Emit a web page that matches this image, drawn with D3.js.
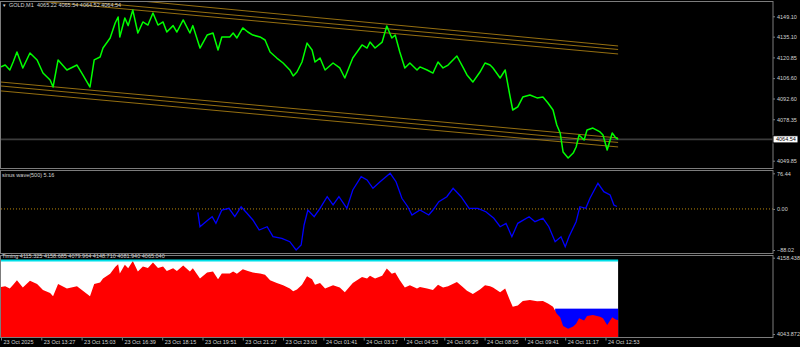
<!DOCTYPE html>
<html>
<head>
<meta charset="utf-8">
<script src="https://cdn.jsdelivr.net/npm/d3@7"></script>
<style>
  html, body { margin: 0; padding: 0; background: #000; }
  svg { display: block; }
  text { font-family: "Liberation Sans", Arial, sans-serif; }
</style>
</head>
<body>
<div id="chart"></div>
<script>
// ---- DATA ----
var priceBar = [0,10,21,29,38,52,69,86,100,117,124,136,157,181,195,212,222,236,243,260,
    272,279,283,295,303,314,326,338,350,362,374,386,395,410,419,434,450,457,474,491,
    505,517,526,545,553,562,576,588,600,617,629,641,657,672,688,696,705,717,729,741,
    748,760,772,791,807,819,838,860,872,879,891,908,919,931,939,950,962,974,991,998,
    1015,1029,1041,1053,1065,1086,1100,1110,1124,1141,1153,1165,1172,1189,1201,1212,1219,1231,1243,1260,
    1277,1291,1303,1315,1324,1332,1339,1351,1363,1370,1377,1389,1396,1410,1427,1434,1444,1456,1463,1470];
var priceClose = [4114.3,4115.6,4112.2,4117.7,4124.6,4113.6,4123.9,4119.1,4110.1,4105.3,
    4100.5,4119.1,4112.2,4115.6,4108.8,4100.5,4119.1,4121.1,4127.3,4134.2,
    4144.5,4148.6,4134.9,4147.9,4142.7,4153.4,4137.6,4145.2,4143.1,4151.4,
    4143.1,4145.2,4138.3,4142.7,4138.3,4146.6,4137.6,4142.7,4127.3,4136.2,
    4137.6,4125.9,4134.9,4134.9,4137.6,4134.2,4141.1,4138.3,4136.2,4134.9,
    4132.8,4124.6,4120.4,4117.0,4112.2,4108.1,4110.8,4117.7,4130.7,4125.9,
    4117.7,4120.4,4112.2,4117.0,4113.6,4106.7,4120.4,4129.4,4127.3,4131.4,
    4127.3,4131.4,4142.4,4134.2,4136.2,4124.6,4113.6,4117.0,4112.2,4114.3,
    4112.2,4110.1,4117.7,4113.6,4115.6,4121.8,4114.3,4108.8,4103.9,4110.8,
    4117.0,4115.6,4113.6,4106.7,4112.2,4095.0,4084.7,4086.8,4093.6,4095.0,
    4093.0,4093.6,4089.5,4084.7,4074.4,4068.9,4055.8,4051.7,4055.1,4059.3,
    4067.5,4064.1,4071.0,4072.3,4069.6,4067.5,4057.2,4068.9,4066.1,4064.5];

var waveBar = [469,474,493,503,512,526,543,557,572,586,600,615,634,648,669,688,703,715,722,731,
    746,760,777,791,805,824,838,858,872,886,903,927,941,955,969,979,998,1019,1029,1043,
    1062,1077,1096,1115,1136,1155,1174,1189,1203,1217,1231,1258,1272,1291,1305,1320,1334,1344,1353,1370,
    1379,1393,1403,1422,1436,1451,1460,1467];
var waveVal = [-7.2,-38.1,-23.7,-16.6,-30.8,-2.3,1.4,-16.6,4.8,-9.3,
    -23.7,-45.1,-38.1,-59.5,-62.9,-70.2,-88.0,-77.3,-34.4,-2.3,
    -16.6,1.4,26.3,8.5,26.3,1.4,40.6,69.1,62.1,44.3,
    58.4,76.4,58.4,22.8,4.8,-13.0,-2.3,-13.0,-2.3,15.5,
    26.3,44.3,26.3,1.4,1.4,-5.9,-20.0,-38.1,-30.8,-59.5,
    -30.8,-16.6,-27.3,-20.0,-38.1,-70.2,-59.5,-80.9,-59.5,-27.3,
    4.8,1.4,22.8,55.0,37.0,29.9,8.5,5.2];

// channel lines: [bar start, price start, bar end, price end]
var upperChannel = [[0,4168.7,1470,4128.7],[0,4164.3,1470,4126.3],[0,4161.9,1470,4123.2]];
var lowerChannel = [[0,4103.9,1470,4065.5],[0,4101.2,1470,4062.4],[0,4097.8,1470,4059.3]];

var lastPrice = 4064.54;
var priceTicks = [4149.10,4135.10,4120.85,4106.60,4092.60,4078.35,4049.85];
var waveTicks = [76.44,0,-88.02];
var timingTicks = [4158.438,4043.872];
var timingTop = 4154.3, timingBox = 4081.94, timingBoxStart = 1320, lastBar = 1470;

var timeBars = [0,96,192,288,384,480,576,672,768,864,960,1056,1152,1248,1344,1440];
var timeLabels = ["23 Oct 2025","23 Oct 13:27","23 Oct 15:03","23 Oct 16:39","23 Oct 18:15",
    "23 Oct 19:51","23 Oct 21:27","23 Oct 23:03","24 Oct 01:41","24 Oct 03:17","24 Oct 04:53",
    "24 Oct 06:29","24 Oct 08:05","24 Oct 09:41","24 Oct 11:17","24 Oct 12:53"];

var titleMain = "GOLD,M1", titleOhlc = "4065.22 4065.54 4064.52 4064.54";
var titleWave = "sinus wave(500) 5.16";
var titleTiming = "Timing 4115.325 4158.685 4079.964 4148.710 4081.940 4065.040";

// ---- LAYOUT ----
var width = 800, height = 347, plotRight = 773,
    panels = {main: {top: 1, bottom: 168}, wave: {top: 170, bottom: 253}, timing: {top: 255, bottom: 337}},
    textColor = "#d4d4d4", borderColor = "#7c7c7c", fontSize = 5.5;

var svg = d3.select("#chart").append("svg")
    .attr("width", width).attr("height", height);
svg.append("rect").attr("width", width).attr("height", height).attr("fill", "#000");

var xScale = d3.scaleLinear().domain([0, 1440]).range([1, 605.5]);
var yMain = d3.scaleLinear().domain([4049.85, 4149.10]).range([160.7, 16.3]);
var yWave = d3.scaleLinear().domain([-88.02, 76.44]).range([250, 173.3]);
var yTiming = d3.scaleLinear().domain([4043.872, 4158.438]).range([334, 257.7]);

var defs = svg.append("defs");
Object.keys(panels).forEach(function(k){
    var p = panels[k];
    defs.append("clipPath").attr("id", "clip-" + k)
        .append("rect").attr("x", 1).attr("y", p.top).attr("width", plotRight - 1).attr("height", p.bottom - p.top);
});

var priceData = priceBar.map(function(b, i){ return {bar: b, v: priceClose[i]}; });
var waveData = waveBar.map(function(b, i){ return {bar: b, v: waveVal[i]}; });

// ---- MAIN PANEL ----
var gMain = svg.append("g").attr("clip-path", "url(#clip-main)");

gMain.append("line")
    .attr("x1", 0).attr("x2", plotRight)
    .attr("y1", yMain(lastPrice)).attr("y2", yMain(lastPrice))
    .attr("stroke", "#3c3c3c").attr("stroke-width", 1.6);

gMain.selectAll(".chan")
    .data(upperChannel.concat(lowerChannel))
    .enter().append("line")
    .attr("class", "chan")
    .attr("x1", function(c){ return xScale(c[0]); })
    .attr("y1", function(c){ return yMain(c[1]); })
    .attr("x2", function(c){ return xScale(c[2]); })
    .attr("y2", function(c){ return yMain(c[3]); })
    .attr("stroke", "#a67c12").attr("stroke-width", 0.9);

var priceLine = d3.line()
    .x(function(d){ return xScale(d.bar); })
    .y(function(d){ return yMain(d.v); });

gMain.append("path").datum(priceData)
    .attr("d", priceLine)
    .attr("fill", "none").attr("stroke", "#00ff00").attr("stroke-width", 1.5)
    .attr("stroke-linejoin", "round");

// ---- SINUS WAVE PANEL ----
var gWave = svg.append("g").attr("clip-path", "url(#clip-wave)");

gWave.append("line")
    .attr("x1", 1).attr("x2", plotRight)
    .attr("y1", yWave(0)).attr("y2", yWave(0))
    .attr("stroke", "#b8860b").attr("stroke-width", 1)
    .attr("stroke-dasharray", "1,2");

gWave.append("path").datum(waveData)
    .attr("d", d3.line().x(function(d){ return xScale(d.bar); }).y(function(d){ return yWave(d.v); }))
    .attr("fill", "none").attr("stroke", "#0000ff").attr("stroke-width", 1.3);

// ---- TIMING PANEL ----
var gTiming = svg.append("g").attr("clip-path", "url(#clip-timing)");
var tBottom = panels.timing.bottom;

gTiming.append("rect")
    .attr("x", xScale(0)).attr("y", yTiming(timingTop))
    .attr("width", xScale(lastBar) - xScale(0)).attr("height", tBottom - yTiming(timingTop))
    .attr("fill", "#ffffff");

gTiming.append("rect")
    .attr("x", xScale(timingBoxStart)).attr("y", yTiming(timingBox))
    .attr("width", xScale(lastBar) - xScale(timingBoxStart)).attr("height", tBottom - yTiming(timingBox))
    .attr("fill", "#0000ff");

gTiming.append("path").datum(priceData)
    .attr("d", d3.area()
        .x(function(d){ return xScale(d.bar); })
        .y0(tBottom)
        .y1(function(d){ return yTiming(d.v); }))
    .attr("fill", "#ff0000");

gTiming.append("line")
    .attr("x1", xScale(0)).attr("x2", xScale(lastBar))
    .attr("y1", yTiming(timingTop)).attr("y2", yTiming(timingTop))
    .attr("stroke", "#00e0e8").attr("stroke-width", 2);

// ---- BORDERS ----
Object.keys(panels).forEach(function(k){
    var p = panels[k];
    svg.append("rect")
        .attr("x", 0.5).attr("y", p.top + 0.5)
        .attr("width", plotRight - 0.5).attr("height", p.bottom - p.top)
        .attr("fill", "none").attr("stroke", borderColor).attr("stroke-width", 1);
});

// ---- AXES ----
function styleAxis(g){
    g.select(".domain").remove();
    g.selectAll(".tick line").attr("stroke", borderColor);
    g.selectAll(".tick text").attr("fill", textColor)
        .style("font-size", fontSize + "px").style("font-family", "'Liberation Sans', Arial, sans-serif");
}

svg.append("g")
    .attr("transform", "translate(" + plotRight + ",0)")
    .call(d3.axisRight(yMain).tickValues(priceTicks).tickSize(2).tickPadding(2).tickFormat(d3.format(".2f")))
    .call(styleAxis);

svg.append("g")
    .attr("transform", "translate(" + plotRight + ",0)")
    .call(d3.axisRight(yWave).tickValues(waveTicks).tickSize(2).tickPadding(2).tickFormat(d3.format(".2f")))
    .call(styleAxis);

svg.append("g")
    .attr("transform", "translate(" + plotRight + ",0)")
    .call(d3.axisRight(yTiming).tickValues(timingTicks).tickSize(2).tickPadding(2).tickFormat(d3.format(".3f")))
    .call(styleAxis);

var xAxisG = svg.append("g")
    .attr("transform", "translate(0," + (tBottom + 0.5) + ")")
    .call(d3.axisBottom(xScale).tickValues(timeBars).tickSize(3)
        .tickFormat(function(d, i){ return timeLabels[i]; }))
    .call(styleAxis);
xAxisG.selectAll(".tick text").attr("text-anchor", "start").attr("x", 2).attr("y", 3);

// last price marker
var lp = svg.append("g").attr("transform", "translate(" + plotRight + "," + yMain(lastPrice) + ")");
lp.append("rect").attr("x", 0).attr("y", -3.6).attr("width", 25).attr("height", 7.2)
    .attr("fill", "#ffffff").attr("stroke", "#000");
lp.append("text").attr("x", 3).attr("y", 2)
    .attr("fill", "#000").style("font-size", fontSize + "px").text(d3.format(".2f")(lastPrice));

// ---- TITLES ----
svg.append("text").attr("x", 2).attr("y", 6.5)
    .attr("fill", textColor).style("font-size", "4.5px").text("\u25BC");
svg.append("text").attr("x", 9).attr("y", 7)
    .attr("fill", textColor).style("font-size", fontSize + "px").text(titleMain);
svg.append("text").attr("x", 37).attr("y", 7)
    .attr("fill", textColor).style("font-size", fontSize + "px").text(titleOhlc);
svg.append("text").attr("x", 2).attr("y", panels.wave.top + 6.5)
    .attr("fill", textColor).style("font-size", fontSize + "px").text(titleWave);
svg.append("text").attr("x", 2).attr("y", panels.timing.top + 3)
    .attr("fill", textColor).style("font-size", fontSize + "px").text(titleTiming);
</script>
</body>
</html>
